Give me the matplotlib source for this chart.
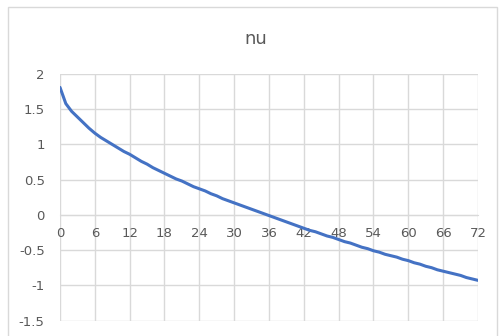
import matplotlib
matplotlib.use("Agg")
import matplotlib.pyplot as plt
from matplotlib.patches import Rectangle

hours = list(range(0, 73))
nu = [1.81, 1.58, 1.47, 1.39, 1.31, 1.23,
      1.16, 1.10, 1.05, 1.00, 0.95, 0.90,
      0.86, 0.81, 0.76, 0.72, 0.67, 0.63,
      0.59, 0.55, 0.51, 0.48, 0.44, 0.40,
      0.37, 0.34, 0.30, 0.27, 0.23, 0.20,
      0.17, 0.14, 0.11, 0.08, 0.05, 0.02,
      -0.01, -0.04, -0.07, -0.10, -0.13, -0.16,
      -0.19, -0.22, -0.24, -0.27, -0.30, -0.32,
      -0.35, -0.38, -0.40, -0.43, -0.46, -0.48,
      -0.51, -0.53, -0.56, -0.58, -0.60, -0.63,
      -0.65, -0.68, -0.70, -0.73, -0.75, -0.78,
      -0.80, -0.82, -0.84, -0.86, -0.89, -0.91,
      -0.93]
x_ticks = list(range(0, 73, 6))
y_ticks = [-1.5, -1, -0.5, 0, 0.5, 1, 1.5, 2]
y_labels = ["-1.5", "-1", "-0.5", "0", "0.5", "1", "1.5", "2"]
title = "nu"

W, H = 502, 336
fig = plt.figure(figsize=(W / 100, H / 100), dpi=100)
plt.rcParams['font.family'] = ['DejaVu Sans']

# chart border
fig.patches.append(Rectangle((8 / W, -5 / H), 489 / W, (H - 7 + 5) / H, transform=fig.transFigure,
                             fill=False, edgecolor="#d9d9d9", linewidth=1))

left, right, top, bottom = 60, 478, 74, 320.5
ax = fig.add_axes([left / W, (H - bottom) / H, (right - left) / W, (bottom - top) / H])

ax.plot(hours, nu, color="#4472C4", linewidth=2.2, solid_capstyle="round",
        solid_joinstyle="round", zorder=3)

ax.set_xlim(0, 72)
ax.set_ylim(-1.5, 2)
ax.set_xticks(x_ticks)
ax.set_yticks(y_ticks)
ax.set_yticklabels(y_labels)
ax.grid(True, color="#d9d9d9", linewidth=1)
ax.set_axisbelow(True)

for s in ["top", "right", "left"]:
    ax.spines[s].set_visible(False)
ax.spines["bottom"].set_position(("data", 0))
ax.spines["bottom"].set_color("#d9d9d9")
ax.spines["bottom"].set_zorder(1)

ax.tick_params(axis="both", length=0, labelsize=9.5, labelcolor="#595959")
ax.tick_params(axis="y", pad=11)
ax.tick_params(axis="x", pad=9)

fig.text(256 / W, 1 - 38.5 / H, title, ha="center", va="center",
         fontsize=13, color="#595959")

fig.savefig("out.png", dpi=100)
